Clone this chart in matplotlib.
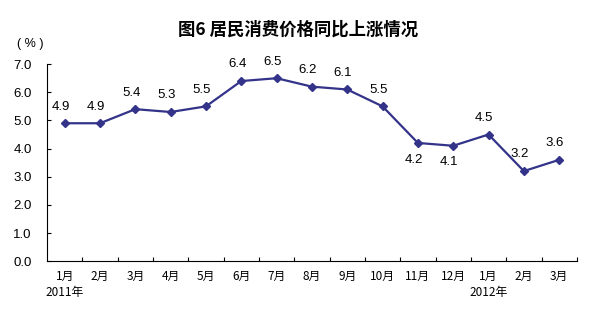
import matplotlib.pyplot as plt

plt.rcParams['font.family'] = ['Noto Sans CJK SC', 'DejaVu Sans']

months = ["1月", "2月", "3月", "4月", "5月", "6月", "7月", "8月", "9月",
          "10月", "11月", "12月", "1月", "2月", "3月"]
cpi = [4.9, 4.9, 5.4, 5.3, 5.5, 6.4, 6.5, 6.2, 6.1, 5.5, 4.2, 4.1, 4.5, 3.2, 3.6]
below = [10, 11]  # labels drawn under the point
years = {0: "2011年", 12: "2012年"}

fig = plt.figure(figsize=(5.98, 3.24), dpi=100)
ax = fig.add_axes([0.0786, 0.194, 0.886, 0.608])

x = list(range(len(cpi)))
ax.plot(x, cpi, color="#33338a", lw=1.6, marker="D", ms=4)

for i, v in enumerate(cpi):
    dy = -12 if i in below else 12
    ax.annotate(f"{v:.1f}", (i, v), xytext=(-3, dy), textcoords="offset points",
                ha="center", va="center", fontsize=9.5, family="Liberation Sans")

ax.set_xlim(-0.5, len(cpi) - 0.5)
ax.set_ylim(0, 7)
ax.set_yticks([i * 1.0 for i in range(8)])
ax.set_yticklabels([f"{i:.1f}" for i in range(8)], family="Liberation Sans", fontsize=9.5)
ax.set_xticks([i + 0.5 for i in range(len(cpi))])
ax.set_xticklabels([])
ax.tick_params(axis="x", direction="in", length=3)
ax.tick_params(axis="y", direction="in", length=3, pad=11)
for s in ["top", "right"]:
    ax.spines[s].set_visible(False)

for i, m in enumerate(months):
    ax.text(i, -0.54, m, ha="center", va="center", fontsize=8.5, clip_on=False)
for i, yl in years.items():
    ax.text(i, -1.1, yl, ha="center", va="center", fontsize=8.5, clip_on=False)

fig.text(0.05, 0.864, "( % )", ha="center", va="center", fontsize=9,
         family="Liberation Sans")
fig.text(0.498, 0.910, "图6 居民消费价格同比上涨情况", ha="center", va="center",
         fontsize=12.5, fontweight="bold")

fig.savefig("out.png", dpi=100)
